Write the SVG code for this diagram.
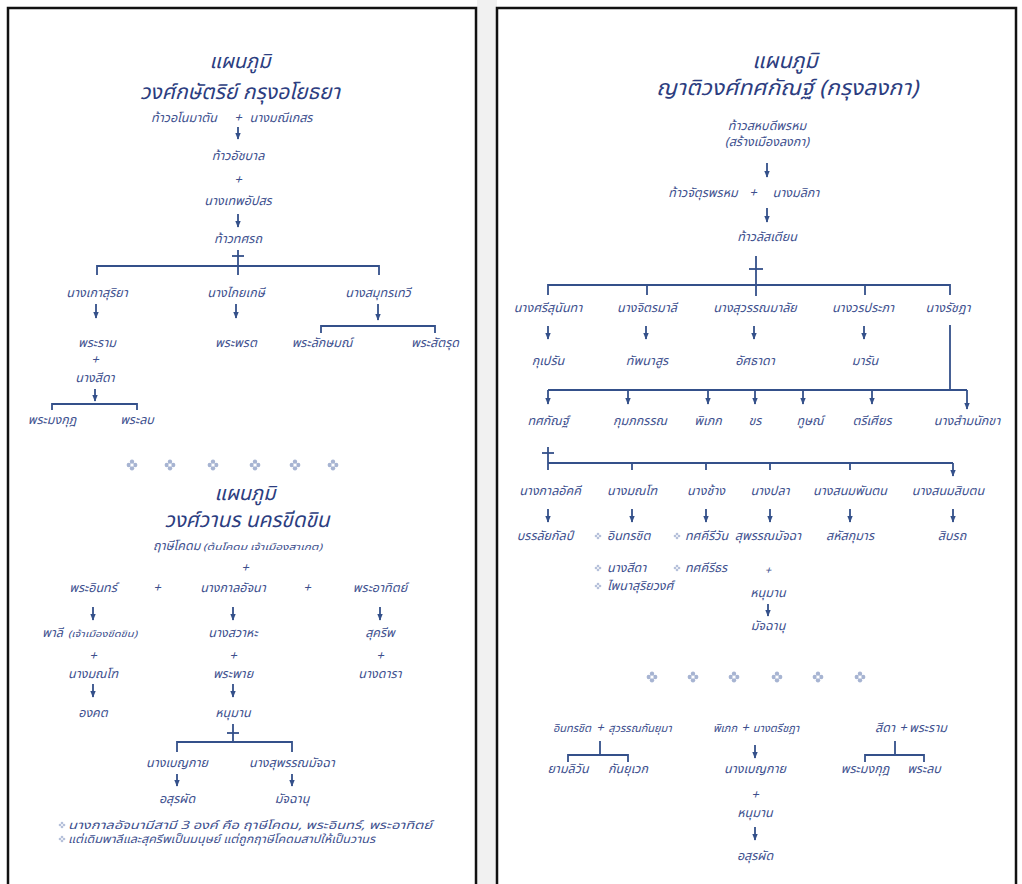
<svg xmlns="http://www.w3.org/2000/svg" width="1022" height="884" viewBox="0 0 1022 884">
<style>
text{font-family:"Noto Sans Thai","Noto Sans","DejaVu Sans",sans-serif;font-style:italic;fill:#3d4f8e;text-anchor:middle}
.t{font-size:20px;fill:#2c3d80}
.t2{font-size:21px;fill:#2c3d80}
.n{font-size:12.5px}
.m{font-size:11px}
.p{font-size:13px}
.s{font-size:9px;text-anchor:start}
.l{text-anchor:start}
.note{font-size:11.5px;text-anchor:start}
.c line,.c polyline{stroke:#34508a;stroke-width:1.8;fill:none}
.c .a{marker-end:url(#ah)}
.frame{fill:#fff;stroke:#111;stroke-width:2.5}
</style>
<defs>
<marker id="ah" viewBox="0 0 10 10" refX="9" refY="5" markerUnits="userSpaceOnUse" markerWidth="7" markerHeight="7" orient="auto">
<path d="M0,1 L10,5 L0,9 z" fill="#34508a"/>
</marker>
<g id="orn">
<circle cx="0" cy="-3.2" r="2.2" fill="#a7b4d2"/>
<circle cx="0" cy="3.2" r="2.2" fill="#a7b4d2"/>
<circle cx="-3.2" cy="0" r="2.2" fill="#a7b4d2"/>
<circle cx="3.2" cy="0" r="2.2" fill="#a7b4d2"/>
<circle cx="0" cy="0" r="1.6" fill="#fff"/>
</g>
<g id="bul">
<circle cx="0" cy="-2" r="1.3" fill="#b5c0da"/>
<circle cx="0" cy="2" r="1.3" fill="#b5c0da"/>
<circle cx="-2" cy="0" r="1.3" fill="#b5c0da"/>
<circle cx="2" cy="0" r="1.3" fill="#b5c0da"/>
</g>
</defs>
<rect x="0" y="0" width="1022" height="884" fill="#fff"/>
<rect x="477" y="0" width="20" height="884" fill="#f1f1f1"/>
<rect class="frame" x="8" y="8" width="468" height="890"/>
<rect class="frame" x="497" y="8" width="519" height="890"/>

<g class="c" id="connectors">
<line class="a" x1="238" y1="127" x2="238" y2="139"/>
<line class="a" x1="238" y1="214" x2="238" y2="227"/>
<line x1="238" y1="250" x2="238" y2="275"/>
<line x1="232" y1="256" x2="244" y2="256"/>
<polyline points="97,275 97,266 379,266 379,275"/>
<line class="a" x1="96" y1="304" x2="96" y2="318"/>
<line class="a" x1="236" y1="304" x2="236" y2="318"/>
<line class="a" x1="378" y1="304" x2="378" y2="320"/>
<polyline points="321,333 321,326 435,326 435,333"/>
<line class="a" x1="95" y1="389" x2="95" y2="401"/>
<polyline points="52,410 52,404 137,404 137,410"/>
<line class="a" x1="93" y1="607" x2="93" y2="620"/>
<line class="a" x1="233" y1="607" x2="233" y2="620"/>
<line class="a" x1="380" y1="607" x2="380" y2="620"/>
<line class="a" x1="93" y1="684" x2="93" y2="697"/>
<line class="a" x1="233" y1="684" x2="233" y2="697"/>
<line x1="233" y1="724" x2="233" y2="742"/>
<line x1="227" y1="733" x2="239" y2="733"/>
<polyline points="177,752 177,742 292,742 292,752"/>
<line class="a" x1="177" y1="774" x2="177" y2="786"/>
<line class="a" x1="292" y1="774" x2="292" y2="786"/>
<line class="a" x1="767" y1="163" x2="767" y2="177"/>
<line class="a" x1="767" y1="208" x2="767" y2="222"/>
<line x1="756" y1="256" x2="756" y2="296"/>
<line x1="749" y1="269" x2="763" y2="269"/>
<polyline points="548,295 548,285 950,285 950,295"/>
<line x1="647" y1="285" x2="647" y2="295"/>
<line x1="865" y1="285" x2="865" y2="295"/>
<line class="a" x1="548" y1="326" x2="548" y2="339"/>
<line class="a" x1="646" y1="326" x2="646" y2="339"/>
<line class="a" x1="754" y1="326" x2="754" y2="339"/>
<line class="a" x1="864" y1="326" x2="864" y2="339"/>
<line x1="950" y1="325" x2="950" y2="390"/>
<line x1="548" y1="390" x2="967" y2="390"/>
<line class="a" x1="548" y1="390" x2="548" y2="404"/>
<line class="a" x1="628" y1="390" x2="628" y2="404"/>
<line class="a" x1="708" y1="390" x2="708" y2="404"/>
<line class="a" x1="755" y1="390" x2="755" y2="404"/>
<line class="a" x1="803" y1="390" x2="803" y2="404"/>
<line class="a" x1="872" y1="390" x2="872" y2="404"/>
<line class="a" x1="967" y1="390" x2="967" y2="409"/>
<line x1="548" y1="447" x2="548" y2="470"/>
<line x1="542" y1="453" x2="554" y2="453"/>
<line x1="548" y1="463" x2="953" y2="463"/>
<line x1="632" y1="463" x2="632" y2="470"/>
<line x1="706" y1="463" x2="706" y2="470"/>
<line x1="770" y1="463" x2="770" y2="470"/>
<line x1="850" y1="463" x2="850" y2="470"/>
<line class="a" x1="953" y1="463" x2="953" y2="476"/>
<line class="a" x1="548" y1="509" x2="548" y2="522"/>
<line class="a" x1="632" y1="509" x2="632" y2="522"/>
<line class="a" x1="706" y1="509" x2="706" y2="522"/>
<line class="a" x1="770" y1="509" x2="770" y2="522"/>
<line class="a" x1="850" y1="509" x2="850" y2="522"/>
<line class="a" x1="953" y1="509" x2="953" y2="522"/>
<line class="a" x1="768" y1="604" x2="768" y2="616"/>
<line x1="600" y1="741" x2="600" y2="755"/>
<polyline points="568,762 568,755 628,755 628,762"/>
<line class="a" x1="755" y1="745" x2="755" y2="758"/>
<line class="a" x1="755" y1="827" x2="755" y2="840"/>
<line x1="895" y1="741" x2="895" y2="755"/>
<polyline points="865,762 865,755 924,755 924,762"/>
</g>

<g id="title-ayutthaya"><text class="t" x="240" y="68">แผนภูมิ</text><text class="t2" x="240" y="99" textLength="200" lengthAdjust="spacingAndGlyphs">วงศ์กษัตริย์ กรุงอโยธยา</text></g>
<g id="anomatan"><text class="n" x="184" y="122">ท้าวอโนมาตัน</text><text class="p" x="238" y="122">+</text><text class="n" x="281" y="122">นางมณีเกสร</text></g>
<g id="atchaban"><text class="n" x="238" y="160">ท้าวอัชบาล</text><text class="p" x="238" y="184">+</text><text class="n" x="238" y="205">นางเทพอัปสร</text></g>
<g id="thotsarot"><text class="n" x="238" y="243">ท้าวทศรถ</text></g>
<g id="kaosuriya"><text class="n" x="97" y="297">นางเกาสุริยา</text></g>
<g id="kaiyakesi"><text class="n" x="236" y="297">นางไกยเกษี</text></g>
<g id="samutthewi"><text class="n" x="378" y="297">นางสมุทรเทวี</text></g>
<g id="ram"><text class="n" x="97" y="347">พระราม</text><text class="p" x="95" y="364">+</text><text class="n" x="95" y="382">นางสีดา</text></g>
<g id="phrot"><text class="n" x="236" y="347">พระพรต</text></g>
<g id="lak"><text class="n" x="322" y="347">พระลักษมณ์</text></g>
<g id="satrut"><text class="n" x="435" y="347">พระสัตรุด</text></g>
<g id="mongkut"><text class="n" x="52" y="424">พระมงกุฎ</text></g>
<g id="lop"><text class="n" x="137" y="424">พระลบ</text></g>
<g id="orn-left"><use href="#orn" x="132" y="465"/><use href="#orn" x="170" y="465"/><use href="#orn" x="213" y="465"/><use href="#orn" x="255" y="465"/><use href="#orn" x="295" y="465"/><use href="#orn" x="333" y="465"/></g>

<g id="title-khitkhin"><text class="t" x="245" y="500">แผนภูมิ</text><text class="t2" x="247" y="527" textLength="165" lengthAdjust="spacingAndGlyphs">วงศ์วานร นครขีดขิน</text></g>
<g id="kodom"><text class="n l" x="153" y="550">ฤาษีโคดม</text><text class="s" x="203" y="550" textLength="119" lengthAdjust="spacingAndGlyphs">(ต้นโคดม เจ้าเมืองสาเกต)</text><text class="p" x="245" y="572">+</text></g>
<g id="in"><text class="n" x="93" y="592">พระอินทร์</text><text class="p" x="157" y="592">+</text></g>
<g id="kanlatchana"><text class="n" x="233" y="592">นางกาลอัจนา</text><text class="p" x="307" y="592">+</text></g>
<g id="athit"><text class="n" x="380" y="592">พระอาทิตย์</text></g>
<g id="phali"><text class="n l" x="42" y="637">พาลี</text><text class="s" x="68" y="637" textLength="69" lengthAdjust="spacingAndGlyphs">(เจ้าเมืองขีดขิน)</text><text class="p" x="93" y="660">+</text><text class="n" x="93" y="678">นางมณโฑ</text></g>
<g id="sawaha"><text class="n" x="233" y="637">นางสวาหะ</text><text class="p" x="233" y="660">+</text><text class="n" x="233" y="678">พระพาย</text></g>
<g id="sukhrip"><text class="n" x="380" y="637">สุครีพ</text><text class="p" x="380" y="660">+</text><text class="n" x="380" y="678">นางดารา</text></g>
<g id="ongkhot"><text class="n" x="93" y="717">องคต</text></g>
<g id="hanuman-l"><text class="n" x="233" y="717">หนุมาน</text></g>
<g id="benyakai-l"><text class="n" x="177" y="767">นางเบญกาย</text></g>
<g id="suphanmatcha-l"><text class="n" x="292" y="767">นางสุพรรณมัจฉา</text></g>
<g id="asurapat-l"><text class="n" x="177" y="803">อสุรผัด</text></g>
<g id="matchanu-l"><text class="n" x="292" y="803">มัจฉานุ</text></g>
<g id="notes"><use href="#bul" x="62" y="825"/><text class="note" x="68" y="829" textLength="364" lengthAdjust="spacingAndGlyphs">นางกาลอัจนามีสามี 3 องค์ คือ ฤาษีโคดม, พระอินทร์, พระอาทิตย์</text><use href="#bul" x="62" y="839"/><text class="note" x="68" y="843" textLength="307" lengthAdjust="spacingAndGlyphs">แต่เดิมพาลีและสุครีพเป็นมนุษย์ แต่ถูกฤาษีโคดมสาปให้เป็นวานร</text></g>

<g id="title-lanka"><text class="t" x="785" y="68" style="font-size:21.5px">แผนภูมิ</text><text class="t" x="787" y="95" style="font-size:21.5px" textLength="262" lengthAdjust="spacingAndGlyphs">ญาติวงศ์ทศกัณฐ์ (กรุงลงกา)</text></g>
<g id="sahabodi"><text class="n" x="767" y="130">ท้าวสหบดีพรหม</text><text class="n" x="767" y="146">(สร้างเมืองลงกา)</text></g>
<g id="chaturaphrom"><text class="n" x="703" y="197">ท้าวจัตุรพรหม</text><text class="p" x="753" y="197">+</text><text class="n" x="796" y="197">นางมลิกา</text></g>
<g id="latsatian"><text class="n" x="767" y="241">ท้าวลัสเตียน</text></g>
<g id="srisunantha"><text class="n" x="548" y="312">นางศรีสุนันทา</text></g>
<g id="chitmali"><text class="n" x="647" y="312">นางจิตรมาลี</text></g>
<g id="suwanmalai"><text class="n" x="755" y="312">นางสุวรรณมาลัย</text></g>
<g id="woraprapha"><text class="n" x="863" y="312">นางวรประภา</text></g>
<g id="ratchada"><text class="n" x="948" y="312">นางรัชฎา</text></g>
<g id="kuperan"><text class="n" x="548" y="365">กุเปรัน</text></g>
<g id="thapnasun"><text class="n" x="647" y="365">ทัพนาสูร</text></g>
<g id="atsathada"><text class="n" x="755" y="365">อัศธาดา</text></g>
<g id="maran"><text class="n" x="865" y="365">มารัน</text></g>
<g id="thotsakan"><text class="n" x="548" y="425">ทศกัณฐ์</text></g>
<g id="kumphakan"><text class="n" x="640" y="425">กุมภกรรณ</text></g>
<g id="phiphek"><text class="n" x="708" y="425">พิเภก</text></g>
<g id="khon"><text class="n" x="755" y="425">ขร</text></g>
<g id="thut"><text class="n" x="810" y="425">ทูษณ์</text></g>
<g id="trisian"><text class="n" x="872" y="425">ตรีเศียร</text></g>
<g id="sammanakkha"><text class="n" x="967" y="425">นางสำมนักขา</text></g>
<g id="kalakkhi"><text class="n" x="550" y="495">นางกาลอัคคี</text></g>
<g id="monthothot"><text class="n" x="632" y="495">นางมณโฑ</text></g>
<g id="chang"><text class="n" x="706" y="495">นางช้าง</text></g>
<g id="pla"><text class="n" x="770" y="495">นางปลา</text></g>
<g id="sanomphan"><text class="n" x="850" y="495">นางสนมพันตน</text></g>
<g id="sanomsip"><text class="n" x="948" y="495">นางสนมสิบตน</text></g>
<g id="banlaikan"><text class="n" x="545" y="540">บรรลัยกัลป์</text></g>
<g id="monthochildren"><use href="#bul" x="598" y="536"/><text class="n l" x="607" y="540">อินทรชิต</text><use href="#bul" x="598" y="568"/><text class="n l" x="607" y="572">นางสีดา</text><use href="#bul" x="598" y="586"/><text class="n l" x="607" y="590">ไพนาสุริยวงศ์</text></g>
<g id="changchildren"><use href="#bul" x="677" y="536"/><text class="n l" x="685" y="540">ทศคีรีวัน</text><use href="#bul" x="677" y="568"/><text class="n l" x="685" y="572">ทศคีรีธร</text></g>
<g id="suphanmatcha-r"><text class="n" x="768" y="540">สุพรรณมัจฉา</text><text class="p" x="768" y="574" style="font-size:11px">+</text><text class="n" x="768" y="597">หนุมาน</text><text class="n" x="768" y="630">มัจฉานุ</text></g>
<g id="sahatsakuman"><text class="n" x="850" y="540">สหัสกุมาร</text></g>
<g id="siprot"><text class="n" x="952" y="540">สิบรถ</text></g>
<g id="orn-right"><use href="#orn" x="652" y="677"/><use href="#orn" x="693" y="677"/><use href="#orn" x="734" y="677"/><use href="#orn" x="777" y="677"/><use href="#orn" x="818" y="677"/><use href="#orn" x="860" y="677"/></g>
<g id="inthorachit-couple"><text class="m" x="572" y="732">อินทรชิต</text><text class="p" x="600" y="732">+</text><text class="m" x="640" y="732">สุวรรณกันยุมา</text></g>
<g id="yamliwan"><text class="n" x="568" y="773">ยามลิวัน</text></g>
<g id="kanyuwek"><text class="n" x="628" y="773">กันยุเวก</text></g>
<g id="phiphek-couple"><text class="m" x="725" y="732">พิเภก</text><text class="p" x="745" y="732">+</text><text class="m" x="776" y="732">นางตรีชฎา</text></g>
<g id="benyakai-r"><text class="n" x="755" y="773">นางเบญกาย</text><text class="p" x="755" y="799">+</text><text class="n" x="755" y="817">หนุมาน</text></g>
<g id="asurapat-r"><text class="n" x="755" y="860">อสุรผัด</text></g>
<g id="sida-couple"><text class="n" x="885" y="732">สีดา</text><text class="p" x="903" y="732">+</text><text class="n" x="928" y="732">พระราม</text></g>
<g id="mongkut-r"><text class="n" x="865" y="773">พระมงกุฎ</text></g>
<g id="lop-r"><text class="n" x="924" y="773">พระลบ</text></g>
</svg>
